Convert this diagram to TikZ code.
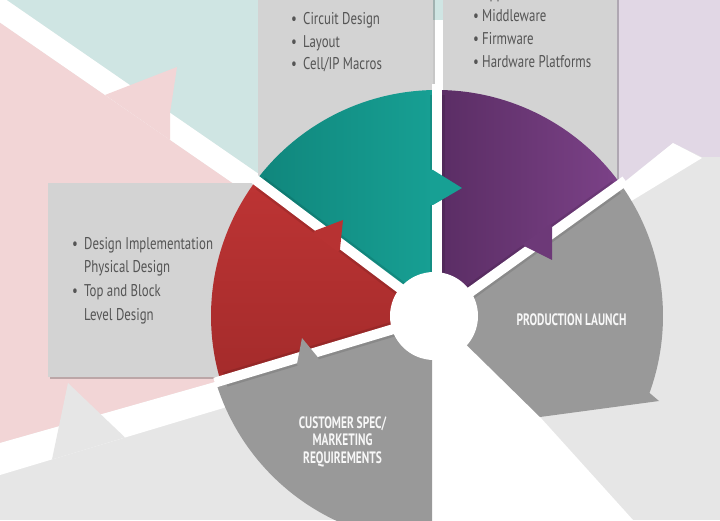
\documentclass[tikz,border=0pt]{standalone}
\usepackage{fontspec}
\setmainfont{PT Sans}[FakeStretch=0.755]
\newfontfamily\capfont{PT Sans}[FakeStretch=0.69]
\usetikzlibrary{calc}

\definecolor{bggray}{HTML}{E6E6E6}
\definecolor{bgpink}{HTML}{F2D5D6}
\definecolor{bgteal}{HTML}{CFE5E3}
\definecolor{bgpurple}{HTML}{E1D7E5}
\definecolor{boxgray}{HTML}{D3D3D3}
\definecolor{txtgray}{HTML}{555555}
\definecolor{tealL}{HTML}{10867C}
\definecolor{tealR}{HTML}{17A094}
\definecolor{purpL}{HTML}{5A2D64}
\definecolor{purpR}{HTML}{7C4288}
\definecolor{redT}{HTML}{BD3434}
\definecolor{redB}{HTML}{A42B2B}
\definecolor{seggray}{HTML}{999999}

\tikzset{
  itemtxt/.style={anchor=base west, inner sep=0pt, text=txtgray,
    font=\fontsize{17}{20}\selectfont},
  captxt/.style={anchor=base, inner sep=0pt, text=white!94!gray,
    font=\capfont\bfseries\fontsize{16.5}{18}\selectfont},
  infobox/.style={fill=boxgray},
  boxshadow/.style={fill=black, opacity=0.22},
  gapline/.style={line width=10pt, white},
  gapshadow/.style={line width=15pt, black, opacity=0.10},
}

\begin{document}
\begin{tikzpicture}[x=1pt,y=1pt]
\begin{scope}[shift={(0,520)}]
\useasboundingbox (0,0) rectangle (720,-520);
\clip (0,0) rectangle (720,-520);

% enlarged, faded copy of the wheel behind everything
\fill[bggray] (0,0) rectangle (720,-520);
\fill[bgpink] (0,-22.5) -- (432,-320.6) -- (0,-443) -- cycle;
\fill[bgteal] (6.5,0) -- (443,0) -- (443,-301) -- (437,-297) -- cycle;
\fill[bgpurple] (443,0) -- (720,0) -- (720,-157) -- (702,-157) -- (673,-143)
  -- (617,-188) -- (443,-316) -- cycle;
\fill[white] (0,4.5) -- (0,-22.5) -- (437,-324) -- (437,-297) -- cycle;
\fill[bgpink] (105,-95) -- (177,-67) -- (170,-113) -- (170,-140) -- cycle;
\fill[white] (433,-20) rectangle (443,-316);
\fill[white] (600,-201.6) -- (673,-143) -- (702,-158) -- (633,-200) -- (600,-220) -- cycle;
\fill[white] (0,-443) -- (437,-319) -- (437,-344) -- (0,-475) -- cycle;
\fill[bggray] (52,-459.5) -- (68,-383) -- (125,-437.5) -- cycle;
\fill[white] (432,-316) -- (432,-520) -- (633,-520) -- (540,-417) -- (441,-316) -- cycle;

% text panels
\fill[boxshadow] (259.5,0) rectangle (434.5,-186.5);
\fill[infobox] (258,0) rectangle (433,-185);
\fill[boxshadow] (444.5,0) rectangle (618.5,-191.5);
\fill[infobox] (443,0) rectangle (617,-190);
\fill[boxshadow] (49.5,-184.5) rectangle (301.5,-378.5);
\fill[infobox] (48,-183) rectangle (300,-377);

\node[itemtxt] (b1a) at (291,-25) {•};
\node[itemtxt] (t1a) at (303,-25) {Circuit Design};
\node[itemtxt] (b1b) at (291,-47.5) {•};
\node[itemtxt] (t1b) at (303,-47.5) {Layout};
\node[itemtxt] (b1c) at (291,-70) {•};
\node[itemtxt] (t1c) at (303,-70) {Cell/IP Macros};

\node[itemtxt] (b2z) at (473,1) {•};
\node[itemtxt] (t2z) at (482,1) {Applications};
\node[itemtxt] (b2a) at (473,-22) {•};
\node[itemtxt] (t2a) at (482,-22) {Middleware};
\node[itemtxt] (b2b) at (473,-45) {•};
\node[itemtxt] (t2b) at (482,-45) {Firmware};
\node[itemtxt] (b2c) at (473,-68) {•};
\node[itemtxt] (t2c) at (482,-68) {Hardware Platforms};

\node[itemtxt] (b3a) at (72,-250) {•};
\node[itemtxt] (t3a) at (84,-250) {Design Implementation};
\node[itemtxt] (t3b) at (84,-273) {Physical Design};
\node[itemtxt] (b3c) at (72,-297) {•};
\node[itemtxt] (t3c) at (84,-297) {Top and Block};
\node[itemtxt] (t3d) at (84,-320) {Level Design};

% wheel segments
\coordinate (C) at (437,-316);
\shade[left color=tealL, right color=tealR]
  (C) -- ++(90:226) arc[start angle=90, end angle=143.1, radius=226] -- cycle;
\shade[left color=purpL, right color=purpR]
  (C) -- ++(35.7:226) arc[start angle=35.7, end angle=90, radius=226] -- cycle;
\shade[top color=redT, bottom color=redB]
  (C) -- ++(143.1:226) arc[start angle=143.1, end angle=196.7, radius=226] -- cycle;
\fill[seggray]
  (432,-316) -- ++(196.7:226) arc[start angle=196.7, end angle=270, radius=226] -- cycle;
\fill[seggray]
  (C) -- ++(35.7:226) arc[start angle=35.7, end angle=-19.9, radius=226]
  -- (659,-401) -- (540,-417) -- cycle;

% gaps between segments
\foreach \a in {90,35.7,143.1,196.7} {
  \draw[gapshadow] (C) -- ++(\a:221);
}
\foreach \a in {90,35.7,143.1,196.7} {
  \draw[gapline] (C) -- ++(\a:232);
}

% arrow points crossing the gaps
\fill[tealR] (430,-170) -- (433,-170) -- (462,-188) -- (433,-205) -- (430,-205) -- cycle;
\fill[redT!75!redB] (315,-230.7) -- (343,-220) -- (340,-249) -- (338,-252) -- (313,-233.7) -- cycle;
\fill[seggray] (297,-364) -- (302,-338) -- (318,-357.5) -- (319,-360.5) -- (298,-367) -- cycle;
\fill[purpL!45!purpR] (525,-246.5) -- (552,-260) -- (552,-227) -- (550,-224.5) -- (523,-244) -- cycle;

% hub
\fill[white] (434,-316) circle[radius=44];

% segment captions
\node[captxt] (pl) at (571.5,-325) {PRODUCTION LAUNCH};
\node[captxt] (cs1) at (342.5,-428) {CUSTOMER SPEC/};
\node[captxt] (cs2) at (342.5,-445.5) {MARKETING};
\node[captxt] (cs3) at (342.5,-463) {REQUIREMENTS};
\end{scope}
\end{tikzpicture}
\end{document}
